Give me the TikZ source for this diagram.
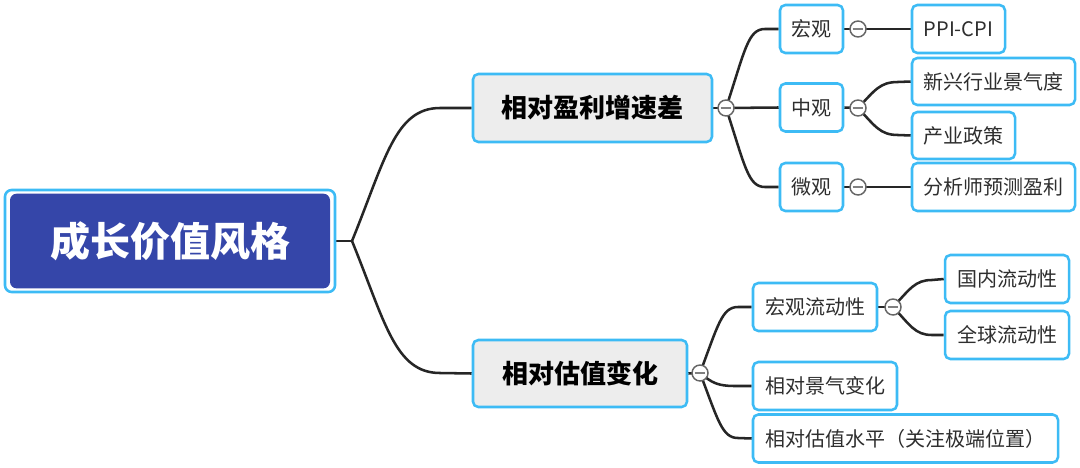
\documentclass[tikz,border=0pt]{standalone}
\usepackage{fontspec}
\setmainfont{Noto Sans CJK SC}
\pgfdeclarelayer{bg}
\pgfsetlayers{bg,main}
\begin{document}
\begin{tikzpicture}[x=0.75pt,y=-0.75pt,
  conn/.style={draw=black!85, line width=1.9pt},
  leaf/.style={draw=cyanb, fill=white, line width=1.9pt, rounded corners=4pt, text=black!82, font=\fontsize{15}{17}\selectfont, inner sep=0pt, minimum height=36pt},
  mainnode/.style={draw=cyanb, fill=gray!14, line width=1.9pt, rounded corners=4pt, text=black, font=\fontsize{19.5}{22}\selectfont\bfseries, inner sep=0pt},
  fold/.style={circle, draw=black!60, fill=white, line width=1.1pt, minimum size=12pt, inner sep=0pt,
    path picture={\draw[black!50, line width=1.6pt] ([xshift=-4pt]path picture bounding box.center) -- ([xshift=4pt]path picture bounding box.center);}}
]
\definecolor{cyanb}{HTML}{3DBBF5}
\definecolor{rootblue}{HTML}{3546A9}
\useasboundingbox (0,0) rectangle (1080,467);

% root
\node[draw=cyanb, fill=white, line width=1.9pt, rounded corners=5pt, minimum width=247.5pt, minimum height=76.5pt, inner sep=0pt] (rootout) at (170,241) {};
\node[fill=rootblue, rounded corners=5pt, minimum width=240pt, minimum height=71pt, inner sep=0pt, text=white, font=\fontsize{30}{34}\selectfont\bfseries] (root) at (170,241) {成长价值风格};

% main nodes
\node[mainnode, minimum width=179.25pt, minimum height=51pt] (m1) at (592.5,108) {相对盈利增速差};
\node[mainnode, minimum width=160.5pt, minimum height=50.25pt] (m2) at (580,373.5) {相对估值变化};

% second level
\node[leaf, minimum width=47.25pt] (a1) at (811.5,29) {宏观};
\node[leaf, minimum width=47.25pt] (a2) at (811.5,107.5) {中观};
\node[leaf, minimum width=47.25pt] (a3) at (811.5,187) {微观};
\node[leaf, minimum width=93pt] (b1) at (815,307) {宏观流动性};
\node[leaf, minimum width=108pt] (b2) at (825,386) {相对景气变化};
\node[leaf, minimum width=228.75pt] (b3) at (905.5,438.5) {相对估值水平（关注极端位置）};

% third level
\node[leaf, minimum width=69.75pt] (p1) at (958.5,29) {PPI-CPI};
\node[leaf, minimum width=122.25pt, minimum height=35.25pt] (p2) at (993.5,81.5) {新兴行业景气度};
\node[leaf, minimum width=77.25pt, minimum height=35.25pt] (p3) at (963.5,135.5) {产业政策};
\node[leaf, minimum width=122.25pt] (p4) at (993.5,187) {分析师预测盈利};
\node[leaf, minimum width=93pt] (q1) at (1007,279) {国内流动性};
\node[leaf, minimum width=93pt] (q2) at (1007,335) {全球流动性};

% fold circles
\node[fold] (c1) at (726,108) {};
\node[fold] (c2) at (700,373) {};
\node[fold] (c3) at (858,29) {};
\node[fold] (c4) at (858,108) {};
\node[fold] (c5) at (858,187) {};
\node[fold] (c6) at (893,307) {};
\coordinate (j0) at (352,241);

% background and connectors
\begin{pgfonlayer}{bg}
\fill[white] (0,0) rectangle (1080,467);
\draw[conn] (rootout.east) -- (j0);
\draw[conn] (j0) .. controls (385,160) and (395,108) .. (440,108) -- (m1.west);
\draw[conn] (j0) .. controls (385,322) and (395,373) .. (440,373) -- (m2.west);
\draw[conn] (m1.east) -- (c1.center);
\draw[conn] (c1.center) .. controls (745,50) and (748,29) .. (765,29) -- (a1.west);
\draw[conn] (c1.center) -- (a2.west);
\draw[conn] (c1.center) .. controls (745,166) and (748,187) .. (765,187) -- (a3.west);
\draw[conn] (m2.east) -- (c2.center);
\draw[conn] (c2.center) .. controls (718,325) and (722,307) .. (738,307) -- (b1.west);
\draw[conn] (c2.center) .. controls (712,383) and (718,386) .. (735,386) -- (b2.west);
\draw[conn] (c2.center) .. controls (718,420) and (722,438) .. (738,438) -- (b3.west);
\draw[conn] (a1.east) -- (c3.center) -- (p1.west);
\draw[conn] (a2.east) -- (c4.center);
\draw[conn] (c4.center) .. controls (875,90) and (880,82) .. (898,82) -- (p2.west);
\draw[conn] (c4.center) .. controls (875,126) and (880,135) .. (898,135) -- (p3.west);
\draw[conn] (a3.east) -- (c5.center) -- (p4.west);
\draw[conn] (b1.east) -- (c6.center);
\draw[conn] (c6.center) .. controls (910,289) and (915,280) .. (932,280) -- (q1.west);
\draw[conn] (c6.center) .. controls (910,325) and (915,335) .. (932,335) -- (q2.west);
\end{pgfonlayer}
\end{tikzpicture}
\end{document}
